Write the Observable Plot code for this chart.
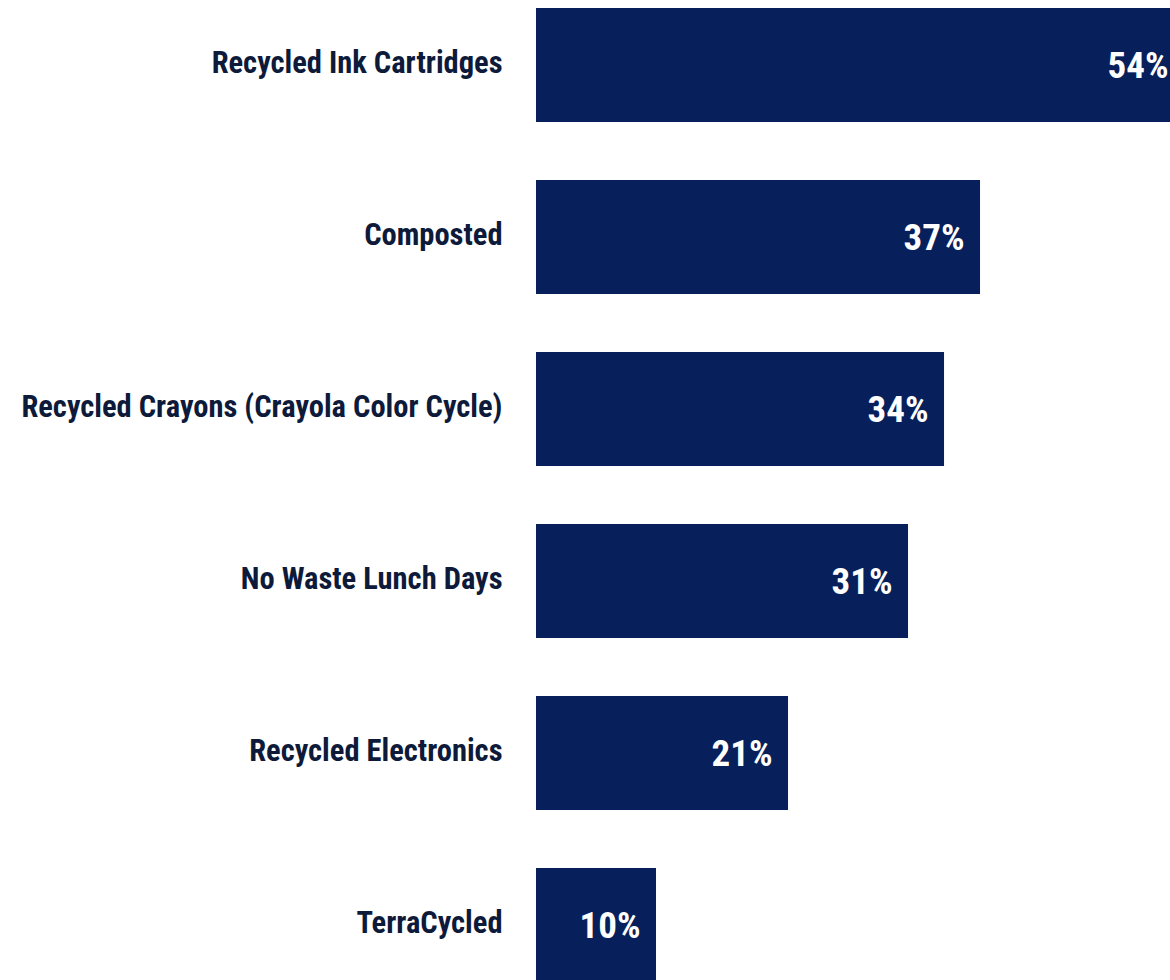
<!DOCTYPE html>
<html>
<head>
<meta charset="utf-8">
<script src="https://cdn.jsdelivr.net/npm/d3@7"></script>
<script src="https://cdn.jsdelivr.net/npm/@observablehq/plot@0.6"></script>
<style>
  html, body { margin: 0; padding: 0; background: #ffffff; overflow: hidden; }
  #chart { width: 1170px; height: 980px; overflow: hidden; }
  svg { overflow: hidden; }
</style>
</head>
<body>
<div id="chart"></div>
<script>
const categories = [
  "Recycled Ink Cartridges",
  "Composted",
  "Recycled Crayons (Crayola Color Cycle)",
  "No Waste Lunch Days",
  "Recycled Electronics",
  "TerraCycled"
];
const values = [54, 37, 34, 31, 21, 10];
const valueLabels = ["54%", "37%", "34%", "31%", "21%", "10%"];

const data = categories.map((c, i) => ({category: c, value: values[i], label: valueLabels[i]}));

const font = "'Roboto Condensed', 'DejaVu Sans Condensed', 'DejaVu Sans', sans-serif";

const chart = Plot.plot({
  width: 1170,
  height: 980,
  marginLeft: 536,
  marginRight: 0,
  marginTop: 0,
  marginBottom: 0,
  style: {background: "#ffffff", fontFamily: font, overflow: "hidden"},
  x: {domain: [0, 52.83], axis: null},
  y: {domain: categories, range: [7, 983.3], paddingInner: 0.337, paddingOuter: 0, axis: null},
  marks: [
    Plot.barX(data, {x: "value", y: "category", fill: "#071f5a", clip: true}),
    Plot.text(data, {
      x: 0, y: "category", text: "category",
      textAnchor: "end", dx: -34, dy: -2,
      fill: "#0d1a3a", fontSize: 30.5, fontWeight: "bold", fontFamily: font
    }),
    Plot.text(data, {
      x: "value", y: "category", text: "label",
      textAnchor: "end", dx: -16, dy: 1,
      fill: "#ffffff", fontSize: 37, fontWeight: "bold", fontFamily: font
    })
  ]
});
document.getElementById("chart").appendChild(chart);
</script>
</body>
</html>
